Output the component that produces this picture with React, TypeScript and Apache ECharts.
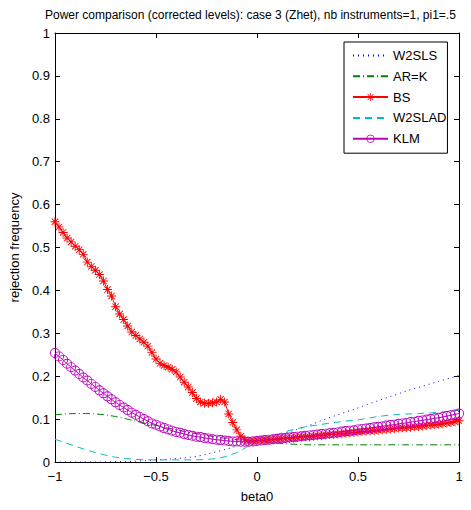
import React, { useEffect, useRef } from "react";
import * as echarts from "echarts";

const titleText = "Power comparison (corrected levels): case 3 (Zhet), nb instruments=1, pi1=.5";
const seriesNames = ["W2SLS", "AR=K", "BS", "W2SLAD", "KLM"];

// fine grid (step 0.02) for marker series
const betaFine = [
  -1.0, -0.98, -0.96, -0.94, -0.92, -0.9, -0.88, -0.86, -0.84, -0.82,
  -0.8, -0.78, -0.76, -0.74, -0.72, -0.7, -0.68, -0.66, -0.64, -0.62,
  -0.6, -0.58, -0.56, -0.54, -0.52, -0.5, -0.48, -0.46, -0.44, -0.42,
  -0.4, -0.38, -0.36, -0.34, -0.32, -0.3, -0.28, -0.26, -0.24, -0.22,
  -0.2, -0.18, -0.16, -0.14, -0.12, -0.1, -0.08, -0.06, -0.04, -0.02,
  0.0, 0.02, 0.04, 0.06, 0.08, 0.1, 0.12, 0.14, 0.16, 0.18,
  0.2, 0.22, 0.24, 0.26, 0.28, 0.3, 0.32, 0.34, 0.36, 0.38,
  0.4, 0.42, 0.44, 0.46, 0.48, 0.5, 0.52, 0.54, 0.56, 0.58,
  0.6, 0.62, 0.64, 0.66, 0.68, 0.7, 0.72, 0.74, 0.76, 0.78,
  0.8, 0.82, 0.84, 0.86, 0.88, 0.9, 0.92, 0.94, 0.96, 0.98, 1.0,
];

const bsValues = [
  0.56, 0.548, 0.535, 0.522, 0.513, 0.503, 0.495, 0.484, 0.466, 0.456,
  0.447, 0.437, 0.422, 0.402, 0.387, 0.362, 0.345, 0.332, 0.317, 0.303,
  0.295, 0.287, 0.279, 0.27, 0.255, 0.24, 0.23, 0.225, 0.221, 0.216,
  0.21, 0.198, 0.186, 0.175, 0.162, 0.148, 0.14, 0.137, 0.137, 0.138,
  0.14, 0.146, 0.14, 0.112, 0.092, 0.075, 0.06, 0.052, 0.048, 0.049,
  0.05, 0.05, 0.051, 0.052, 0.052, 0.053, 0.054, 0.055, 0.055, 0.056,
  0.057, 0.058, 0.059, 0.059, 0.06, 0.061, 0.062, 0.063, 0.064, 0.064,
  0.065, 0.066, 0.067, 0.068, 0.069, 0.07, 0.071, 0.072, 0.072, 0.073,
  0.074, 0.075, 0.076, 0.077, 0.078, 0.079, 0.08, 0.08, 0.081, 0.082,
  0.083, 0.084, 0.085, 0.086, 0.087, 0.088, 0.089, 0.091, 0.092, 0.094, 0.096,
];

const klmValues = [
  0.254, 0.246, 0.238, 0.229, 0.221, 0.213, 0.205, 0.197, 0.19, 0.182,
  0.175, 0.167, 0.16, 0.153, 0.146, 0.139, 0.133, 0.127, 0.121, 0.115,
  0.11, 0.105, 0.1, 0.095, 0.09, 0.087, 0.083, 0.079, 0.076, 0.073,
  0.07, 0.068, 0.065, 0.063, 0.061, 0.059, 0.058, 0.056, 0.055, 0.053,
  0.052, 0.051, 0.05, 0.049, 0.048, 0.048, 0.047, 0.047, 0.047, 0.048,
  0.049, 0.05, 0.051, 0.052, 0.053, 0.054, 0.055, 0.056, 0.057, 0.058,
  0.059, 0.06, 0.061, 0.062, 0.063, 0.064, 0.065, 0.066, 0.067, 0.068,
  0.069, 0.071, 0.072, 0.073, 0.074, 0.076, 0.077, 0.078, 0.079, 0.081,
  0.082, 0.083, 0.085, 0.086, 0.087, 0.089, 0.09, 0.091, 0.093, 0.094,
  0.096, 0.097, 0.099, 0.1, 0.102, 0.103, 0.105, 0.107, 0.109, 0.111, 0.113,
];

// coarse grid (step 0.05) for line-only series
const betaCoarse = [
  -1.0, -0.95, -0.9, -0.85, -0.8, -0.75, -0.7, -0.65, -0.6, -0.55,
  -0.5, -0.45, -0.4, -0.35, -0.3, -0.25, -0.2, -0.15, -0.1, -0.05,
  0.0, 0.05, 0.1, 0.15, 0.2, 0.25, 0.3, 0.35, 0.4, 0.45,
  0.5, 0.55, 0.6, 0.65, 0.7, 0.75, 0.8, 0.85, 0.9, 0.95, 1.0,
];

const w2slsValues = [
  0.0, 0.0, 0.0, 0.0, 0.0, 0.0, 0.001, 0.001, 0.002, 0.003,
  0.005, 0.006, 0.008, 0.01, 0.013, 0.018, 0.024, 0.03, 0.037, 0.044,
  0.05, 0.057, 0.064, 0.069, 0.076, 0.084, 0.093, 0.102, 0.11, 0.118,
  0.126, 0.135, 0.143, 0.151, 0.159, 0.167, 0.174, 0.181, 0.188, 0.195, 0.202,
];

const arkValues = [
  0.11, 0.112, 0.113, 0.113, 0.112, 0.11, 0.106, 0.101, 0.095, 0.09,
  0.085, 0.08, 0.075, 0.07, 0.066, 0.062, 0.058, 0.055, 0.052, 0.05,
  0.049, 0.047, 0.044, 0.042, 0.041, 0.04, 0.04, 0.04, 0.04, 0.04,
  0.04, 0.04, 0.04, 0.04, 0.04, 0.04, 0.04, 0.04, 0.04, 0.04, 0.04,
];

const w2sladValues = [
  0.053, 0.045, 0.037, 0.029, 0.022, 0.016, 0.011, 0.008, 0.006, 0.005,
  0.005, 0.005, 0.005, 0.005, 0.005, 0.006, 0.008, 0.013, 0.022, 0.035,
  0.048, 0.057, 0.064, 0.072, 0.078, 0.083, 0.086, 0.09, 0.093, 0.096,
  0.098, 0.102, 0.106, 0.109, 0.111, 0.112, 0.113, 0.114, 0.116, 0.118, 0.121,
];

const starPath =
  "path://M-0.5,-5L0.5,-5L0.5,5L-0.5,5Z" +
  "M-5,-0.5L5,-0.5L5,0.5L-5,0.5Z" +
  "M-3.18,-3.89L3.89,3.18L3.18,3.89L-3.89,-3.18Z" +
  "M-3.89,3.18L3.18,-3.89L3.89,-3.18L-3.18,3.89Z";

const ringPath =
  "path://M0,-5A5,5 0 1,1 0,5A5,5 0 1,1 0,-5Z" +
  "M0,-4.1A4.1,4.1 0 1,0 0,4.1A4.1,4.1 0 1,0 0,-4.1Z";

const FONT = "Liberation Sans, Arial, Helvetica, sans-serif";

function pairs(xs: number[], ys: number[]) {
  return xs.map((x, i) => [x, ys[i]]);
}

function fmt(v: number) {
  const s = String(Math.round(v * 100) / 100);
  return s.replace("-", "\u2212");
}

export default function App() {
  const ref = useRef<HTMLDivElement>(null);
  useEffect(() => {
    if (!ref.current) return;
    const chart = echarts.init(ref.current, null, { renderer: "svg" });
    const axisLine = { show: true, onZero: false, lineStyle: { color: "#000", width: 1 } };
    const axisTick = { show: true, inside: true, length: 5, lineStyle: { color: "#000", width: 1 } };
    const noSymbol = { opacity: 0 };
    chart.setOption({
      animation: false,
      backgroundColor: "#fff",
      textStyle: { fontFamily: FONT },
      title: {
        text: titleText,
        left: 40,
        top: 4,
        textStyle: { fontFamily: FONT, fontSize: 12, fontWeight: "normal", color: "#000" },
      },
      grid: { left: 48, right: 12, top: 33, bottom: 48, containLabel: false },
      legend: {
        orient: "vertical",
        left: 344,
        top: 42,
        itemWidth: 35,
        itemHeight: 10,
        itemGap: 7.8,
        padding: [7, 1, 8, 8],
        borderColor: "#000",
        borderWidth: 1,
        backgroundColor: "#fff",
        data: [
          { name: "W2SLS", itemStyle: noSymbol },
          { name: "AR=K", itemStyle: noSymbol },
          { name: "BS" },
          { name: "W2SLAD", itemStyle: noSymbol },
          { name: "KLM" },
        ],
        textStyle: { fontFamily: FONT, fontSize: 13, color: "#000" },
      },
      xAxis: [
        {
          type: "value",
          min: -1,
          max: 1,
          interval: 0.5,
          position: "bottom",
          axisLine,
          axisTick,
          splitLine: { show: false },
          axisLabel: { fontFamily: FONT, fontSize: 13, color: "#000", margin: 8, formatter: fmt },
          name: "beta0",
          nameLocation: "middle",
          nameGap: 28,
          nameTextStyle: { fontFamily: FONT, fontSize: 13, color: "#000" },
        },
        {
          type: "value",
          min: -1,
          max: 1,
          interval: 0.5,
          position: "top",
          axisLine,
          axisTick,
          splitLine: { show: false },
          axisLabel: { show: false },
        },
      ],
      yAxis: [
        {
          type: "value",
          min: 0,
          max: 1,
          interval: 0.1,
          position: "left",
          axisLine,
          axisTick,
          splitLine: { show: false },
          axisLabel: { fontFamily: FONT, fontSize: 13, color: "#000", margin: 5, formatter: fmt },
          name: "rejection frequency",
          nameLocation: "middle",
          nameGap: 31,
          nameTextStyle: { fontFamily: FONT, fontSize: 13, color: "#000" },
        },
        {
          type: "value",
          min: 0,
          max: 1,
          interval: 0.1,
          position: "right",
          axisLine,
          axisTick,
          splitLine: { show: false },
          axisLabel: { show: false },
        },
      ],
      series: [
        {
          name: seriesNames[0],
          type: "line",
          data: pairs(betaCoarse, w2slsValues),
          symbol: "none",
          color: "#0000ff",
          lineStyle: { color: "#0000ff", width: 1, type: [1, 4] },
        },
        {
          name: seriesNames[1],
          type: "line",
          data: pairs(betaCoarse, arkValues),
          symbol: "none",
          color: "#008000",
          lineStyle: { color: "#008000", width: 1, type: [7, 3, 1, 3] },
        },
        {
          name: seriesNames[2],
          type: "line",
          data: pairs(betaFine, bsValues),
          symbol: starPath,
          symbolSize: 9,
          showAllSymbol: true,
          color: "#ff0000",
          itemStyle: { color: "#ff0000" },
          lineStyle: { color: "#ff0000", width: 1 },
        },
        {
          name: seriesNames[3],
          type: "line",
          data: pairs(betaCoarse, w2sladValues),
          symbol: "none",
          color: "#00bfbf",
          lineStyle: { color: "#00bfbf", width: 1, type: [7, 5] },
        },
        {
          name: seriesNames[4],
          type: "line",
          data: pairs(betaFine, klmValues),
          symbol: ringPath,
          symbolSize: 10,
          showAllSymbol: true,
          color: "#bf00bf",
          itemStyle: { color: "#bf00bf" },
          lineStyle: { color: "#bf00bf", width: 1 },
        },
      ],
    });
    return () => chart.dispose();
  }, []);
  return (
    <div
      ref={ref}
      style={{ position: "absolute", left: 0, top: 0, width: 471, height: 510 }}
    />
  );
}
